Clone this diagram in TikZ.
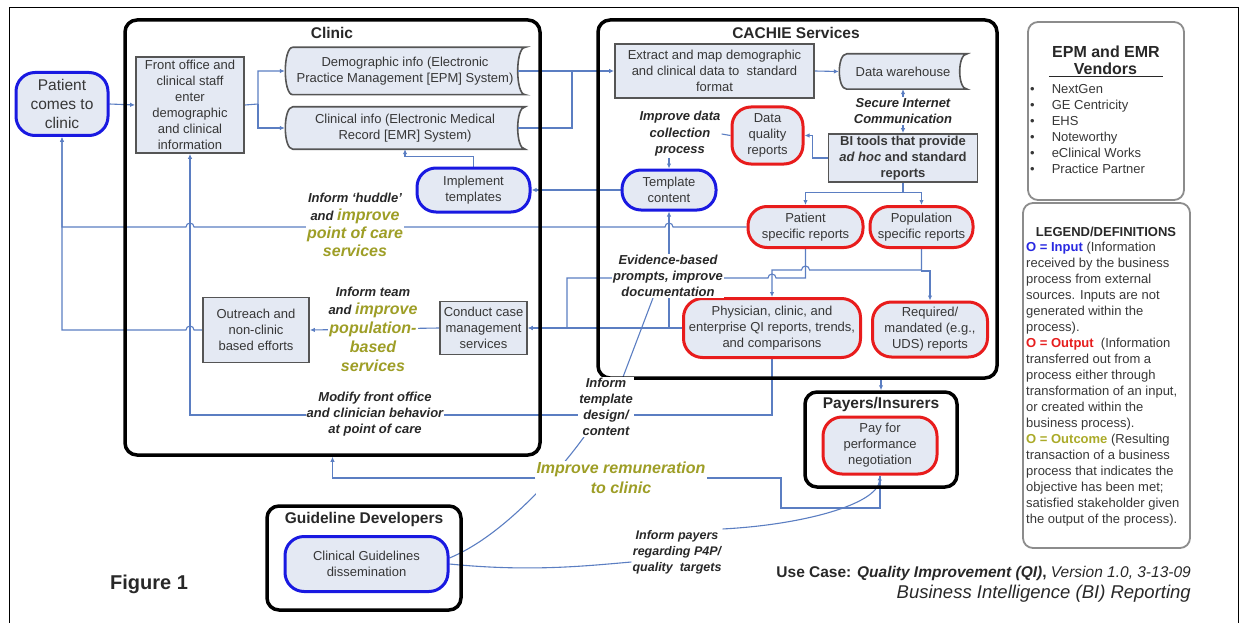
\documentclass[tikz,border=0pt]{standalone}
\usepackage{fontspec}
\setmainfont{Liberation Sans}
\usetikzlibrary{arrows.meta,calc}
\definecolor{linecol}{RGB}{91,126,194}
\definecolor{blueB}{RGB}{25,25,225}
\definecolor{redR}{RGB}{232,28,28}
\definecolor{nodefill}{RGB}{228,233,243}
\definecolor{olivec}{RGB}{158,158,38}
\definecolor{txt}{RGB}{55,55,55}
\definecolor{lbltxt}{RGB}{40,40,40}
\definecolor{boxgray}{RGB}{85,85,85}
\definecolor{softgray}{RGB}{140,140,140}
\definecolor{legblue}{RGB}{40,40,225}
\definecolor{legred}{RGB}{230,30,30}
\definecolor{legolive}{RGB}{170,170,40}
\newcommand{\ntext}{\fontsize{13}{16}\selectfont}
\newcommand{\olv}[1]{{\color{olivec}\fontsize{16}{18}\selectfont #1}}
\newcommand{\sdshape}[1]{%
 \draw[draw=boxgray, line width=1.6pt, fill=nodefill]
 ($(#1.north west)+(8,0)$) -- (#1.north east)
 .. controls ($(#1.north east)+(-10,0)$) and ($(#1.south east)+(-10,0)$) .. (#1.south east)
 -- ($(#1.south west)+(8,0)$)
 .. controls ($(#1.south west)+(-2,0)$) and ($(#1.north west)+(-2,0)$) .. cycle;}
\pgfdeclarelayer{bg}
\pgfdeclarelayer{lines}
\pgfsetlayers{bg,lines,main}
\tikzset{
 base/.style={font=\ntext, text=txt, align=center, inner sep=1pt},
 termB/.style={base, draw=blueB, line width=3pt, fill=nodefill, rounded corners=19pt},
 termR/.style={base, draw=redR, line width=3pt, fill=nodefill, rounded corners=19pt},
 procbox/.style={base, draw=boxgray, line width=1.8pt, fill=nodefill},
 stored/.style={base},
 container/.style={draw=black, line width=3.5pt, rounded corners=12pt},
 softbox/.style={draw=softgray, line width=1.8pt, rounded corners=10pt},
 ctitle/.style={font=\fontsize{15.5}{18}\selectfont\bfseries, text=lbltxt},
 lbl/.style={text=lbltxt, align=center, fill=white, inner sep=1pt},
 conn/.style={draw=linecol, line width=1.1pt},
 arr/.style={conn, -{Latex[length=5pt,width=4.5pt]}},
 hop/.style={start angle=0, end angle=180, radius=4pt}
}
\begin{document}
\begin{tikzpicture}[x=1pt,y=-1pt]
\useasboundingbox (0,0) rectangle (1239,623);
% outer frame
\draw[line width=1pt] (9,623) -- (9,8) -- (1238,8) -- (1238,623);

% containers
\node[container, minimum width=415pt, minimum height=435pt] (clinic) at (332.5,237.5) {};
\node[container, minimum width=399pt, minimum height=358pt] (cachie) at (797.5,199) {};
\node[container, minimum width=152pt, minimum height=95pt] (payers) at (881,439.5) {};
\node[container, minimum width=194pt, minimum height=104pt] (guide) at (364,558) {};
\node[softbox, minimum width=156pt, minimum height=178pt] (vend) at (1106,111) {};
\node[softbox, minimum width=167pt, minimum height=345pt] (legend) at (1106.5,375.5) {};

\node[ctitle] (tclinic) at (332,33) {Clinic};
\node[ctitle] (tcachie) at (796,33) {CACHIE Services};
\node[ctitle] (tpayers) at (881,404) {Payers/Insurers};
\node[ctitle] (tguide) at (364,519) {Guideline Developers};

% process nodes
\node[termB, minimum width=92pt, minimum height=63pt, font=\fontsize{15.5}{19}\selectfont] (patient) at (62,104) {Patient\\comes to\\clinic};
\node[procbox, minimum width=108pt, minimum height=96pt] (front) at (190,105) {Front office and\\clinical staff\\enter\\demographic\\and clinical\\information};
\node[stored, minimum width=240pt, minimum height=47pt] (dem) at (405,71) {Demographic info (Electronic\\Practice Management [EPM] System)};
\node[stored, minimum width=240pt, minimum height=42pt] (clin) at (405,128) {Clinical info (Electronic Medical\\Record [EMR] System)};
\node[termB, minimum width=113pt, minimum height=44pt] (impl) at (473.5,190) {Implement\\templates};
\node[procbox, minimum width=106pt, minimum height=65pt] (outreach) at (256,330) {Outreach and\\non-clinic\\based efforts};
\node[procbox, minimum width=87pt, minimum height=53pt] (conduct) at (483.5,328) {Conduct case\\management\\services};
\node[procbox, minimum width=199pt, minimum height=54pt] (extract) at (714.5,71) {Extract and map demographic\\and clinical data to\ \ standard\\format};
\node[stored, minimum width=128pt, minimum height=35pt] (dw) at (903,71.5) {Data warehouse};
\node[procbox, minimum width=149pt, minimum height=48pt, font=\fontsize{13}{16}\selectfont\bfseries] (bi) at (903,158) {BI tools that provide\\\textit{ad hoc} and standard\\reports};
\node[termR, minimum width=71pt, minimum height=57pt] (dq) at (767.5,135.5) {Data\\quality\\reports};
\node[termB, minimum width=94pt, minimum height=40pt] (tc) at (669,190) {Template\\content};
\node[termR, minimum width=115pt, minimum height=41pt] (psr) at (805.5,227) {Patient\\specific reports};
\node[termR, minimum width=103pt, minimum height=41pt] (pop) at (921.5,227) {Population\\specific reports};
\node[termR, minimum width=177pt, minimum height=59pt] (phys) at (772,328) {Physician, clinic, and\\enterprise QI reports, trends,\\and comparisons};
\node[termR, minimum width=115pt, minimum height=55pt] (req) at (930,329.5) {Required/\\mandated (e.g.,\\UDS) reports};
\node[termR, minimum width=114pt, minimum height=57pt] (pay) at (880,445.5) {Pay for\\performance\\negotiation};
\node[termB, minimum width=163pt, minimum height=55pt] (gnode) at (366.5,564) {Clinical Guidelines\\dissemination};

\begin{pgfonlayer}{bg}
\sdshape{dem}
\sdshape{clin}
\sdshape{dw}
\end{pgfonlayer}

% labels
\node[lbl, font=\fontsize{13}{18}\selectfont\bfseries\itshape] (huddle) at (355,225) {Inform `huddle'\\and \olv{improve}\\\olv{point of care}\\\olv{services}};
\node[lbl, font=\fontsize{13}{18.7}\selectfont\bfseries\itshape] (team) at (373,329) {Inform team\\and \olv{improve}\\\olv{population-}\\\olv{based}\\\olv{services}};
\node[lbl, font=\fontsize{13}{16}\selectfont\bfseries\itshape] (modify) at (375,414) {Modify front office\\and clinician behavior\\at point of care};
\node[lbl, font=\fontsize{13}{16}\selectfont\bfseries\itshape] (itd) at (606,407) {Inform\\template\\design/\\content};
\node[lbl, font=\fontsize{13}{16}\selectfont\bfseries\itshape] (evid) at (668,276) {Evidence-based\\prompts, improve\\documentation};
\node[lbl, font=\fontsize{13}{16.5}\selectfont\bfseries\itshape] (idc) at (680,134) {Improve data\\collection\\process};
\node[lbl, font=\fontsize{13}{16}\selectfont\bfseries\itshape] (secure) at (903,111) {Secure Internet\\Communication};
\node[lbl, text=olivec, font=\fontsize{16}{20}\selectfont\bfseries\itshape] (rem) at (621,478) {Improve remuneration\\to clinic};
\node[lbl, font=\fontsize{12.5}{16}\selectfont\bfseries\itshape] (p4p) at (677,552) {Inform payers\\regarding P4P/\\quality\ \ targets};

\coordinate (j1) at (572,71);
\coordinate (j2) at (258,104);

% connectors
\begin{pgfonlayer}{lines}
\draw[arr] (patient.east) -- (front.west);
\draw[arr] (front.east) -- (j2) |- (dem.west);
\draw[arr] (j2) |- (clin.west);
\draw[arr] ([xshift=-7pt]dem.east) -- (extract.west);
\draw[conn] ([xshift=-7pt]clin.east) -| (j1);
\draw[arr] (extract.east) -- (dw.west);
\draw[conn, {Latex[length=5pt,width=4.5pt]}-{Latex[length=5pt,width=4.5pt]}] (dw.south) -- (bi.north);
\draw[arr] (bi.west) -- ++(-15,0) |- (dq.east);
\draw[conn] (dq.west) -- (idc.east);
\draw[arr] (tc.north |- idc.south) -- (tc.north);
\draw[arr] (tc.west) -- (impl.east);
\draw[arr] (impl.north) -- ++(0,-10) -| (clin.south);
\draw[arr] (bi.south) -- ++(0,10) -| (psr.north);
\draw[arr] (bi.south) -- ++(0,10) -| (pop.north);
% patient specific -> patient (huddle)
\draw[arr] (psr.west) -- (673,227) arc[hop] -- (194,227) arc[hop] -| (patient.south);
% outreach -> patient
\draw[arr] (outreach.west) -- (194,330) arc[hop] -| (patient.south);
% population -> physician, required
\draw[arr] (pop.south) |- (809.5,270) arc[hop] -| (phys.north);
\draw[arr] (pop.south) -- ++(0,22) -| (req.north);
% patient specific -> conduct case
\draw[arr] (psr.south) |- (776,278) arc[hop] -- (567,278) |- (conduct.east);
\draw[arr] (phys.west) -- (conduct.east);
\draw[arr] (phys.west -| tc.south) -- (tc.south);
\draw[arr] (conduct.west) -- (outreach.east);
% physician -> front office
\draw[arr] (phys.south) -- ++(0,56) -| (front.south);
% cachie -> payers
\draw[arr] (cachie.south -| payers.north) -- (payers.north);
% remuneration
\draw[conn] (pay.south) -- (880,508) -- (781,508) |- (rem.east);
\draw[arr] (rem.west) -| (clinic.south);
% guidelines
\draw[conn] (gnode.east) .. controls (530,572) and (585,566) .. ([yshift=-10pt]p4p.west);
\draw[arr] (p4p.north east) .. controls (800,525) and (878,505) .. (pay.south);
\draw[conn] ([yshift=6pt]gnode.east) .. controls (505,535) and (560,470) .. ([xshift=-22pt]itd.south);
\draw[conn] ([xshift=17pt]itd.north) -- ([xshift=-15pt]evid.south);
\end{pgfonlayer}

% vendors
\node[font=\fontsize{16}{18}\selectfont\bfseries, text=lbltxt] (vt1) at (1106,52) {EPM and EMR};
\node[font=\fontsize{16}{18}\selectfont\bfseries, text=lbltxt] (vt2) at (1106,70) {\underline{\hspace{25pt}Vendors\hspace{26pt}}};
\node[anchor=north west, text=txt, font=\fontsize{13}{16}\selectfont, inner sep=0pt] (vlist) at (1030,82) {\begin{tabular}{@{}l@{\hspace{17pt}}l@{}}
\textbullet & NextGen\\
\textbullet & GE Centricity\\
\textbullet & EHS\\
\textbullet & Noteworthy\\
\textbullet & eClinical Works\\
\textbullet & Practice Partner
\end{tabular}};

% legend
\node[font=\fontsize{13}{15}\selectfont\bfseries, text=lbltxt] (lt) at (1106,232) {LEGEND/DEFINITIONS};
\node[anchor=north west, align=left, text=txt, font=\fontsize{13}{16}\selectfont, inner sep=0pt] (lbody) at (1026,242) {%
{\color{legblue}\bfseries O = Input} (Information\\
received by the business\\
process from external\\
sources. Inputs are not\\
generated within the\\
process).\\
{\color{legred}\bfseries O = Output}\ \ (Information\\
transferred out from a\\
process either through\\
transformation of an input,\\
or created within the\\
business process).\\
{\color{legolive}\bfseries O = Outcome} (Resulting\\
transaction of a business\\
process that indicates the\\
objective has been met;\\
satisfied stakeholder given\\
the output of the process).};

% footer
\node[font=\fontsize{20}{24}\selectfont\bfseries, text=lbltxt] (fig) at (149,584) {Figure 1};
\node[anchor=east, font=\fontsize{15.5}{18}\selectfont, text=lbltxt, inner sep=0pt] (usecase) at (1191,573) {\textbf{Use Case:} \textbf{\textit{Quality Improvement (QI)}}\textbf{,} \textit{Version 1.0, 3-13-09}};
\node[anchor=east, font=\fontsize{18.5}{21}\selectfont\itshape, text=lbltxt, inner sep=0pt] (bir) at (1191,594) {Business Intelligence (BI) Reporting};
\end{tikzpicture}
\end{document}
